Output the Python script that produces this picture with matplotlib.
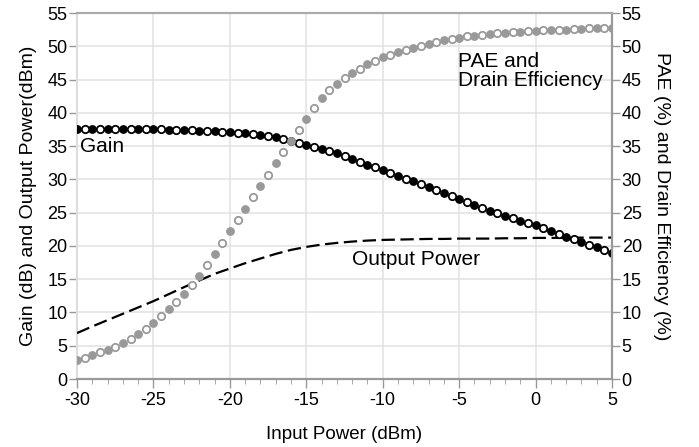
import numpy as np
import matplotlib.pyplot as plt

plt.rcParams['font.family'] = ['Liberation Sans', 'DejaVu Sans']
plt.rcParams['axes.unicode_minus'] = False

# Input power (dBm): integer steps and half steps
pin = np.arange(-30, 6, 1.0)
pin_half = np.arange(-29.5, 5, 1.0)

# Gain (dB)
gain = [37.6, 37.6, 37.6, 37.6, 37.55, 37.5, 37.45, 37.4, 37.3, 37.2,
        37.1, 36.9, 36.7, 36.3, 35.8, 35.2, 34.5, 33.9, 33.1, 32.2,
        31.4, 30.5, 29.7, 28.8, 28.0, 27.1, 26.2, 25.3, 24.5, 23.8,
        23.1, 22.3, 21.4, 20.6, 19.8, 19.0]
gain_half = [37.6, 37.6, 37.6, 37.55, 37.5, 37.5, 37.4, 37.35, 37.25, 37.15,
             37.0, 36.8, 36.5, 36.05, 35.5, 34.85, 34.2, 33.5, 32.65, 31.8,
             30.95, 30.1, 29.25, 28.4, 27.55, 26.65, 25.75, 24.9, 24.15, 23.45,
             22.7, 21.85, 21.0, 20.2, 19.4]

# Output power (dBm)
pout = [6.9, 7.9, 8.85, 9.8, 10.75, 11.7, 12.75, 13.8, 14.8, 15.8,
        16.6, 17.4, 18.1, 18.8, 19.4, 19.85, 20.2, 20.45, 20.65, 20.8,
        20.9, 20.95, 21.0, 21.05, 21.05, 21.1, 21.1, 21.1, 21.15, 21.15,
        21.2, 21.2, 21.2, 21.25, 21.25, 21.25]

# PAE (%) and drain efficiency (%)
pae = [2.85, 3.6, 4.4, 5.35, 6.75, 8.4, 10.5, 12.8, 15.5, 18.8,
       22.2, 25.6, 29.0, 32.4, 35.8, 39.0, 42.3, 44.4, 46.0, 47.3,
       48.4, 49.1, 49.7, 50.3, 50.9, 51.3, 51.6, 51.8, 52.0, 52.2,
       52.3, 52.4, 52.5, 52.6, 52.7, 52.8]
de = [3.2, 4.0, 4.85, 6.0, 7.5, 9.4, 11.6, 14.1, 17.1, 20.5,
      23.9, 27.3, 30.7, 34.1, 37.4, 40.7, 43.4, 45.3, 46.6, 47.8,
      48.7, 49.4, 50.0, 50.6, 51.1, 51.5, 51.75, 51.95, 52.1, 52.25,
      52.4, 52.5, 52.6, 52.7, 52.8]

fig = plt.figure(figsize=(6.99, 4.47), dpi=100)
ax = fig.add_axes([77/699, 68/447, 535/699, 366/447])
ax2 = ax.twinx()

grey = '#999999'
ms = 5.3

ax.plot(pin, pout, color='black', lw=1.6, dashes=(6, 2.5), zorder=3)
ax.plot(pin, gain, 'o', color='black', ms=ms, zorder=4)
ax.plot(pin_half, gain_half, 'o', mfc='white', mec='black', mew=1.3, ms=ms, zorder=4)

ax2.plot(pin, pae, 'o', color=grey, ms=ms, zorder=4)
ax2.plot(pin_half, de, 'o', mfc='white', mec=grey, mew=1.3, ms=ms, zorder=4)

ax.set_xlim(-30, 5)
ax.set_ylim(0, 55)
ax2.set_ylim(0, 55)
ax.set_xticks(np.arange(-30, 6, 5))
ax.set_xticks(np.arange(-30, 6, 1), minor=True)
ax.set_yticks(np.arange(0, 56, 5))
ax2.set_yticks(np.arange(0, 56, 5))

ax.grid(True, which='major', color='#e4e4e4', lw=1.2)
ax.set_axisbelow(True)

for a in (ax, ax2):
    a.tick_params(labelsize=13, color=grey, length=6, width=1, direction='out', pad=1)
ax.tick_params(axis='x', which='minor', length=3.5, color=grey)
ax.tick_params(axis='x', which='major', length=6.5, pad=3)

ax.spines['left'].set_color('#dddddd')
ax.spines['top'].set_color('#aaaaaa')
ax.spines['bottom'].set_color(grey)
ax.spines['right'].set_color(grey)
ax2.spines['left'].set_visible(False)
ax2.spines['top'].set_color('#aaaaaa')
ax2.spines['bottom'].set_color(grey)
ax2.spines['right'].set_color(grey)
for a in (ax, ax2):
    for s in a.spines.values():
        s.set_linewidth(1.5)

ax.set_xlabel('Input Power (dBm)', fontsize=13.5, labelpad=12)
ax.set_ylabel('Gain (dB) and Output Power(dBm)', fontsize=14, labelpad=7)
ax2.set_ylabel('PAE (%) and Drain Efficiency (%)', fontsize=14, rotation=270, labelpad=20)

ax.text(-29.8, 35.0, 'Gain', fontsize=15, va='center', ha='left')
ax.text(-12.0, 18.0, 'Output Power', fontsize=15, va='center', ha='left')
ax.text(-5.1, 46.3, 'PAE and\nDrain Efficiency', fontsize=15, va='center', ha='left',
        linespacing=1.05)

fig.savefig('out.png', dpi=100)
